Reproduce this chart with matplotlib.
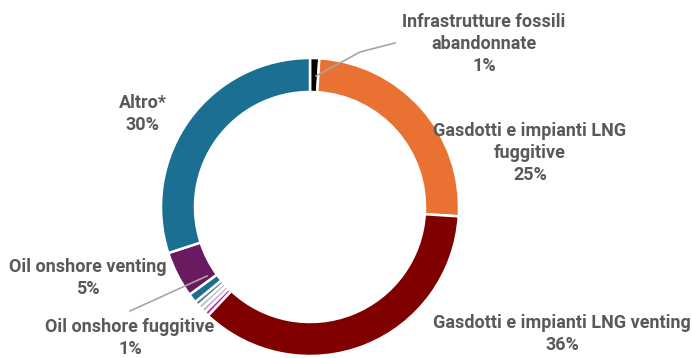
import matplotlib
matplotlib.use('Agg')
import matplotlib.pyplot as plt

# quote emissioni di metano per fonte (%)
categories = ['Infrastrutture fossili\nabandonnate', 'Gasdotti e impianti LNG\nfuggitive',
              'Gasdotti e impianti LNG venting', 'a', 'b', 'c', 'd',
              'Oil onshore fuggitive', 'Oil onshore venting', 'Altro*']
values = [1, 25, 36, 0.5, 0.5, 0.5, 0.5, 1, 5, 30]
colors = ['#000000', '#e97132', '#800000', '#b3309f', '#c9a6d6', '#b7c2c4', '#5d7f7c',
          '#1b6f8a', '#6a1b5f', '#1a6f93']

W, H = 692, 358
plt.rcParams['font.family'] = ['Roboto', 'DejaVu Sans']

fig = plt.figure(figsize=(W / 100, H / 100), dpi=100)
ax = fig.add_axes([0, 0, 1, 1])
ax.set_xlim(0, W)
ax.set_ylim(0, H)
ax.set_aspect('equal')
ax.axis('off')

cx, cy, r = 310, H - 207, 149
ax.pie(values, colors=colors, startangle=90, counterclock=False, radius=r, center=(cx, cy),
       wedgeprops=dict(width=34, edgecolor='white', linewidth=1.8))
ax.set_xlim(0, W)
ax.set_ylim(0, H)

txt = dict(color='#595959', fontsize=13, fontweight='bold', ha='center', va='center',
           linespacing=1.3)

# etichette (x, y in pixel dall'alto)
labels = [
    (categories[0] + '\n1%', 484, 44),
    (categories[1] + '\n25%', 530, 153),
    (categories[2] + '\n36%', 562, 334),
    (categories[9] + '\n30%', 143, 114),
    (categories[8] + '\n5%', 88, 278),
    (categories[7] + '\n1%', 130, 338),
]
for s, x, y in labels:
    ax.text(x, H - y, s, **txt)

# linee guida per le fette piccole
ax.plot([316, 360, 395], [H - 76, H - 52, H - 43], color='#a6a6a6', lw=1.2)
ax.plot([207, 130], [H - 276, H - 311], color='#a6a6a6', lw=1.2)

fig.savefig('out.png', dpi=100)
